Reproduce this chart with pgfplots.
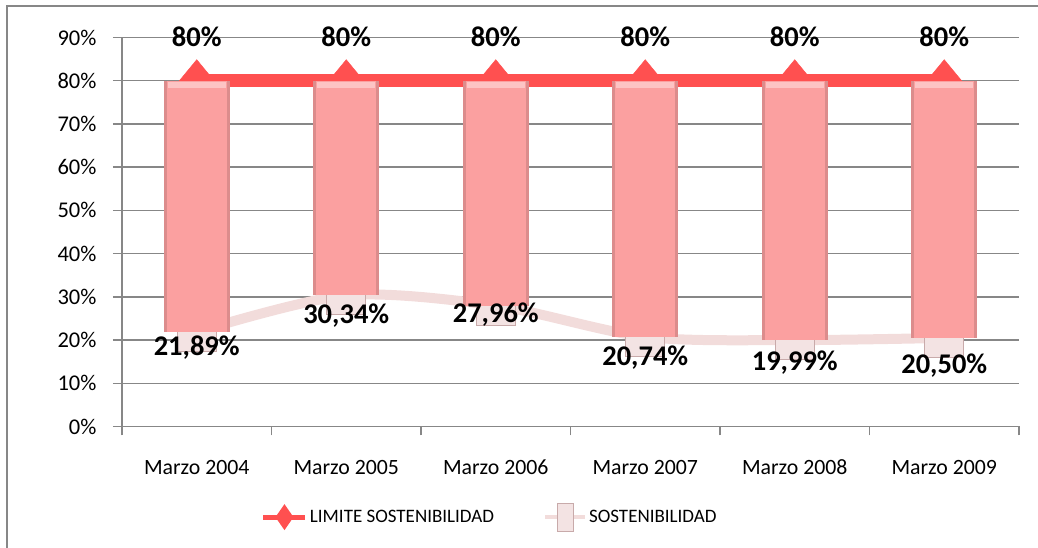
\documentclass[border=0pt]{standalone}
\usepackage{pgfplots}
\pgfplotsset{compat=1.18}
\usepackage{pgfplotstable}
\usepackage{fontspec}
\setmainfont{Carlito}
\definecolor{limred}{HTML}{FF5050}
\definecolor{barpink}{HTML}{FBA0A0}
\definecolor{barside}{HTML}{DC8C8C}
\definecolor{bartop}{HTML}{FDC4C4}
\definecolor{sostline}{HTML}{F2DCDB}
\definecolor{sqfill}{HTML}{F3E3E3}
\definecolor{sqdraw}{HTML}{C8AAAA}
\definecolor{gridgray}{HTML}{878787}
\pgfplotstableread{
x s lim off
0 21.89 80 16
1 30.34 80 20
2 27.96 80 9
3 20.74 80 21
4 19.99 80 23
5 20.50 80 28
}\data
\begin{document}
\begin{tikzpicture}
\path[use as bounding box] (-122pt,-121.5pt) rectangle (916pt,426.5pt);
\begin{axis}[
  scale only axis, width=897pt, height=389pt,
  at={(0pt,0pt)}, anchor=south west,
  xmin=-0.5, xmax=5.5, ymin=0, ymax=90,
  clip=false, clip marker paths=true,
  axis x line*=bottom, axis y line*=left,
  axis line style={color=gridgray, line width=1.5pt},
  tick align=outside, major tick length=9pt,
  tick style={color=gridgray, line width=1.5pt},
  xtick={-0.5,0.5,1.5,2.5,3.5,4.5,5.5},
  xticklabels={Marzo 2004,Marzo 2005,Marzo 2006,Marzo 2007,Marzo 2008,Marzo 2009,{}},
  xticklabel style={xshift=74.75pt, yshift=-21pt},
  ytick={0,10,...,90},
  yticklabel={\pgfmathprintnumber{\tick}\%},
  yticklabel style={xshift=-13pt, font=\fontsize{22.5}{26}\selectfont},
  ymajorgrids, grid style={color=gridgray, line width=1.5pt},
  xticklabel style={font=\fontsize{21.8}{26}\selectfont},
  /pgf/number format/assume math mode=true,
  legend style={at={(axis description cs:0.41,-0.233)}, anchor=center, draw=none, fill=none,
    legend columns=2, font=\fontsize{19}{23}\selectfont,
    /tikz/every even column/.append style={column sep=47pt}},
]
\addplot[color=limred, line width=13pt, mark=diamond*, mark size=21pt,
  mark options={fill=limred, draw=limred, line width=0.5pt, xscale=1.1},
  legend image code/.code={
    \path[draw=limred, line width=5pt] (0pt,0pt) -- (42pt,0pt);
    \path[fill=limred, draw=none, line width=0pt] (21pt,13pt) -- (30pt,0pt) -- (21pt,-13pt) -- (12pt,0pt) -- cycle;}
  ] table[x=x,y=lim]{\data};
\addlegendentry{LIMITE SOSTENIBILIDAD}
\addplot[color=sostline, line width=10pt, smooth, mark=square*, mark size=19.5pt,
  mark options={fill=sqfill, draw=sqdraw, line width=1pt},
  legend image code/.code={
    \path[draw=sostline, line width=4pt] (0pt,0pt) -- (40pt,0pt);
    \path[fill=sqfill, draw=sqdraw, line width=0.8pt] (12pt,-14pt) rectangle (28pt,14pt);}
  ] table[x=x,y=s]{\data};
\addlegendentry{SOSTENIBILIDAD}
% up-down bars
\addplot[forget plot, draw=none, mark=none,
  error bars/.cd, y dir=plus, y explicit, error mark=none,
  error bar style={line width=66pt, draw=barside}]
  table[x=x, y=s, y error expr=80-\thisrow{s}]{\data};
\addplot[forget plot, draw=none, mark=none,
  error bars/.cd, y dir=plus, y explicit, error mark=none,
  error bar style={line width=60pt, draw=barpink}]
  table[x=x, y=s, y error expr=80-\thisrow{s}]{\data};
\addplot[forget plot, draw=none, mark=none,
  error bars/.cd, y dir=plus, y explicit, error mark=none,
  error bar style={line width=58pt, draw=bartop}]
  table[x=x, y expr=\thisrow{lim}-1.6, y error expr=1.4]{\data};
% labels
\addplot[forget plot, draw=none, mark=none, point meta=y,
  nodes near coords={\pgfmathprintnumber[fixed,precision=0]{\pgfplotspointmeta}\%},
  every node near coord/.style={font=\bfseries\fontsize{28.5}{32}\selectfont, anchor=center, yshift=44pt}]
  table[x=x,y=lim]{\data};
\addplot[forget plot, draw=none, mark=none, point meta=y,
  visualization depends on={\thisrow{off} \as \labeloff},
  nodes near coords={\pgfmathprintnumber[fixed,precision=2,fixed zerofill,use comma]{\pgfplotspointmeta}\%},
  every node near coord/.style={font=\bfseries\fontsize{28.5}{32}\selectfont, anchor=center, yshift=-\labeloff pt}]
  table[x=x,y=s]{\data};
\end{axis}
\draw[color=gridgray, line width=1.5pt] (-115pt,-121.5pt) -- (-115pt,420.5pt) -- (916pt,420.5pt);
\end{tikzpicture}
\end{document}
